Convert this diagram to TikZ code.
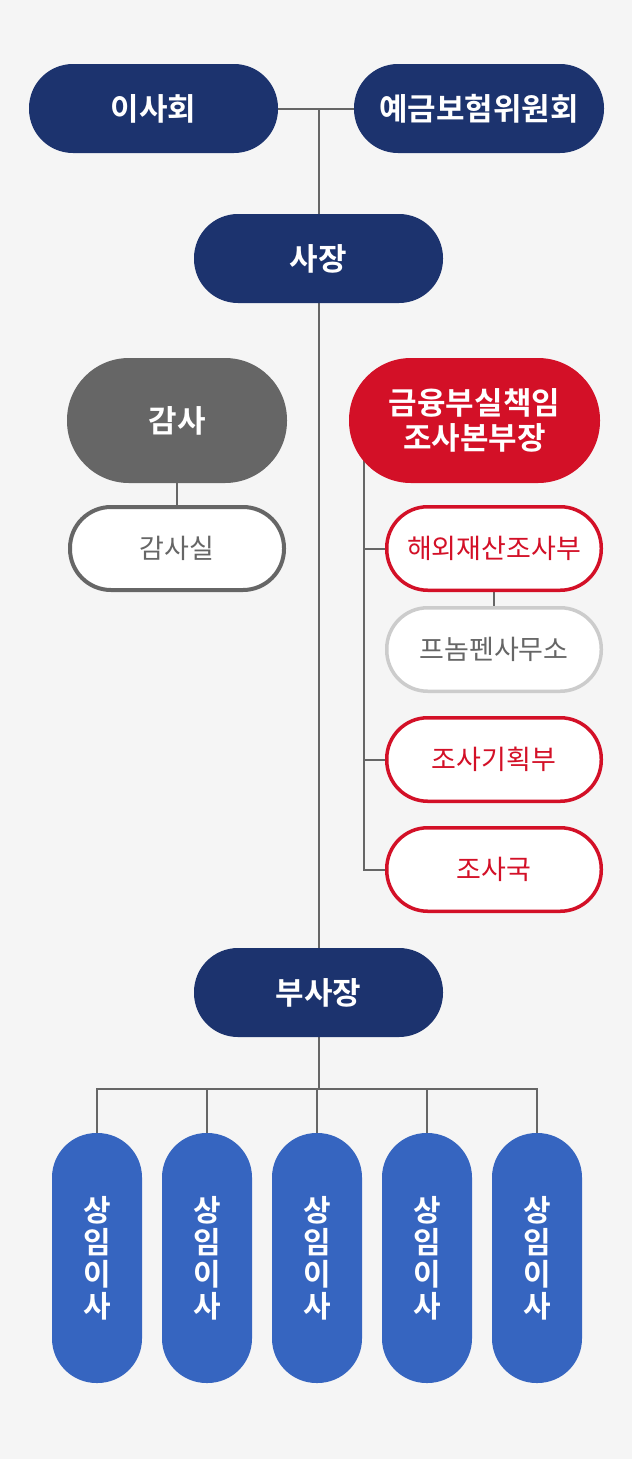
\documentclass[tikz,border=0pt]{standalone}
\usepackage{fontspec}
\newfontfamily\kr{Noto Sans CJK KR}[BoldFont={Noto Sans CJK KR Bold}]
\usetikzlibrary{positioning,calc,backgrounds}
\definecolor{navy}{HTML}{1C336E}
\definecolor{kred}{HTML}{D31027}
\definecolor{kblue}{HTML}{3665C0}
\definecolor{kgray}{HTML}{666666}
\definecolor{pale}{HTML}{F5F5F5}
\definecolor{light}{HTML}{CCCCCC}

\begin{document}
\begin{tikzpicture}[x=1pt,y=-1pt,
	navybox/.style={fill=navy,text=white,inner sep=0pt,font=\kr\bfseries\fontsize{31}{35}\selectfont,minimum width=249pt,minimum height=89pt,rounded corners=44pt},
	graybox/.style={navybox,fill=kgray,minimum width=220pt,minimum height=125pt,rounded corners=62pt},
	redbox/.style={graybox,fill=kred,minimum width=251pt,align=center},
	subbox/.style={fill=white,draw=kred,text=kred,line width=3.5pt,inner sep=0pt,font=\kr\fontsize{27}{30}\selectfont,minimum width=214.5pt,minimum height=83.5pt,rounded corners=41pt},
	auditbox/.style={subbox,draw=kgray,text=kgray,line width=4pt,minimum width=214pt,minimum height=83pt},
	officebox/.style={subbox,draw=light,text=kgray},
	dirbox/.style={fill=kblue,text=white,inner sep=0pt,align=center,font=\kr\bfseries\fontsize{30}{32}\selectfont,minimum width=90pt,minimum height=250pt,rounded corners=44.5pt},
	link/.style={draw=kgray,line width=2pt}]
	\node[navybox] (board) at (153.5,108.5) {이사회};
	\node[navybox,minimum width=250pt] (kdic) at (479,108.5) {예금보험위원회};
	\node[navybox] (ceo) at (318.5,258.5) {사장};
	\node[graybox] (audit) at (177,420.5) {감사};
	\node[auditbox] (auditoff) at (177,548.5) {감사실};
	\node[redbox] (fsi) at (474.5,420.5) {금융부실책임\\조사본부장};
	\node[subbox] (dept1) at (494,548.5) {해외재산조사부};
	\node[officebox] (office) at (494,649.5) {프놈펜사무소};
	\node[subbox] (dept3) at (494,759.5) {조사기획부};
	\node[subbox] (dept4) at (494,869.5) {조사국};
	\node[navybox] (vp) at (318.5,992.5) {부사장};
	\foreach \i in {1,...,5}
		\node[dirbox] (dir\i) at ({97+110*(\i-1)},1258) {상\\임\\이\\사};
	\begin{scope}[on background layer]
		\fill[pale] (0,0) rectangle (632,1459);
		\draw[link] (board.east) -- (kdic.west);
		\draw[link] (ceo.north) -- (ceo.north |- board.east);
		\draw[link] (ceo.south) -- (vp.north);
		\draw[link] (audit.south) -- (auditoff.north);
		\draw[link] (dept1.south) -- (office.north);
		\coordinate (spine) at ($(dept1.west |- fsi.center)+(-21,0)$);
		\foreach \d in {dept1,dept3,dept4}
			\draw[link] (spine) |- (\d.west);
		\coordinate (bus) at ($(vp.south)+(0,52)$);
		\draw[link] (vp.south) -- (bus);
		\foreach \i in {1,...,5}
			\draw[link] (bus) -| (dir\i.north);
	\end{scope}
\end{tikzpicture}
\end{document}
